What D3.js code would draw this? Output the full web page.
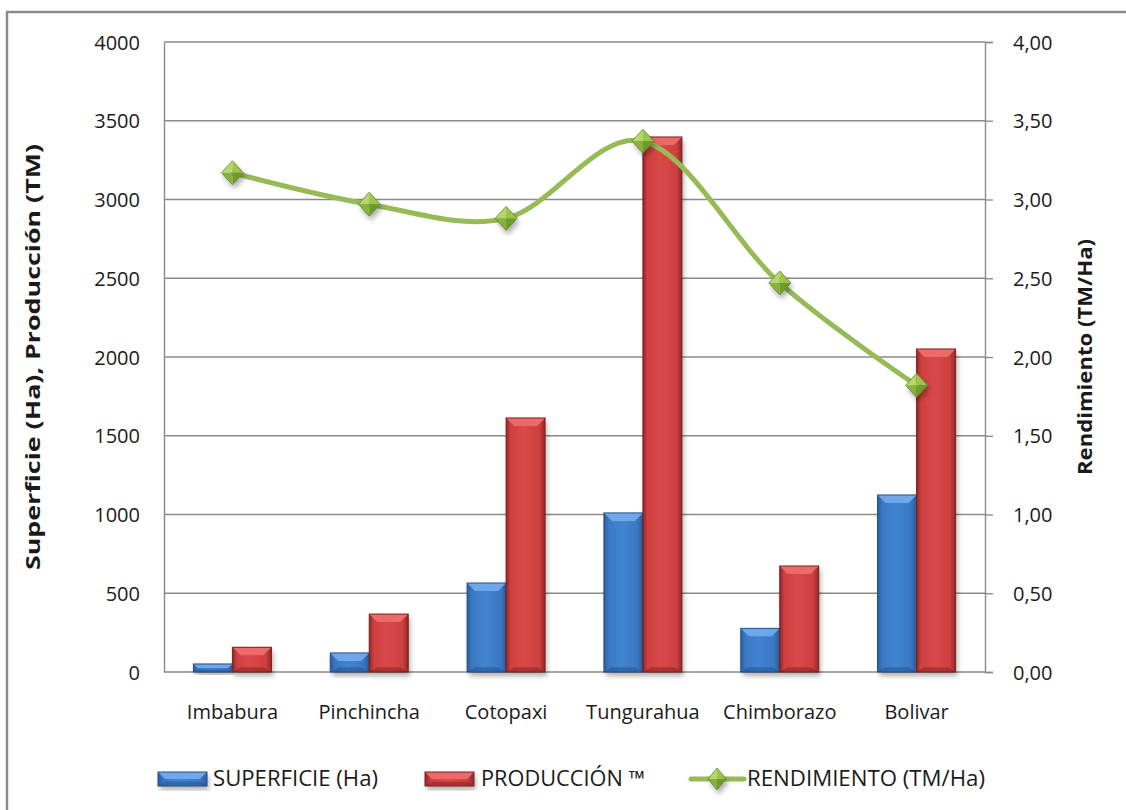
<!DOCTYPE html>
<html>
<head>
<meta charset="utf-8">
<script src="https://cdn.jsdelivr.net/npm/d3@7/dist/d3.min.js"></script>
<style>
  html, body { margin: 0; padding: 0; background: #fff; }
  svg text { font-family: "Open Sans", "DejaVu Sans", sans-serif; fill: #1a1a1a; }
</style>
</head>
<body>
<div id="chart"></div>
<script>
// datos
const categories = ["Imbabura", "Pinchincha", "Cotopaxi", "Tungurahua", "Chimborazo", "Bolivar"];
const superficie = [51, 121, 565, 1010, 277, 1124];
const produccion = [157, 368, 1613, 3397, 673, 2051];
const rendimiento = [3.17, 2.97, 2.88, 3.37, 2.47, 1.82];
const leftTicks = [0, 500, 1000, 1500, 2000, 2500, 3000, 3500, 4000];
const rightTicks = [0, 0.5, 1, 1.5, 2, 2.5, 3, 3.5, 4];
const seriesNames = ["SUPERFICIE (Ha)", "PRODUCCIÓN ™", "RENDIMIENTO (TM/Ha)"];

const W = 1126, H = 810;
const plot = { left: 164, right: 985, top: 42, bottom: 672 };
const grey = "#8a8a8a";

const svg = d3.select("#chart").append("svg")
  .attr("width", W)
  .attr("height", H);

// defs: degradados de las barras y marcadores
const defs = svg.append("defs");

function hGrad(id, edge, mid, hi) {
  const g = defs.append("linearGradient").attr("id", id)
    .attr("x1", 0).attr("x2", 1).attr("y1", 0).attr("y2", 0);
  g.append("stop").attr("offset", "0%").attr("stop-color", edge);
  g.append("stop").attr("offset", "12%").attr("stop-color", mid);
  g.append("stop").attr("offset", "45%").attr("stop-color", hi);
  g.append("stop").attr("offset", "85%").attr("stop-color", mid);
  g.append("stop").attr("offset", "100%").attr("stop-color", edge);
}
hGrad("gBlue", "#2b5c9c", "#3a78c3", "#4184d0");
hGrad("gRed", "#8f2828", "#d04040", "#d94848");

const shadow = defs.append("filter").attr("id", "shadow")
  .attr("x", "-20%").attr("y", "-20%").attr("width", "150%").attr("height", "150%");
shadow.append("feDropShadow").attr("dx", 2).attr("dy", 4).attr("stdDeviation", 2.5)
  .attr("flood-color", "#000").attr("flood-opacity", 0.3);

// marco exterior
svg.append("rect")
  .attr("x", 7).attr("y", 12)
  .attr("width", W + 20).attr("height", H + 20)
  .attr("fill", "none").attr("stroke", grey).attr("stroke-width", 2.5);

const x = d3.scaleBand()
  .domain(categories)
  .range([plot.left, plot.right])
  .paddingInner(0.43)
  .paddingOuter(0.215);

const x1 = d3.scaleBand()
  .domain([0, 1])
  .range([0, x.bandwidth()]);

const yL = d3.scaleLinear().domain([0, 4000]).range([plot.bottom, plot.top]);
const yR = d3.scaleLinear().domain([0, 4]).range([plot.bottom, plot.top]);

// lineas de cuadricula
svg.append("g")
  .selectAll("line")
  .data(leftTicks.slice(1))
  .enter().append("line")
  .attr("x1", plot.left).attr("x2", plot.right)
  .attr("y1", d => yL(d)).attr("y2", d => yL(d))
  .attr("stroke", grey).attr("stroke-width", 1.4);

// eje izquierdo
const axisL = svg.append("g")
  .attr("transform", `translate(${plot.left},0)`)
  .call(d3.axisLeft(yL).tickValues(leftTicks).tickSize(0).tickPadding(24).tickFormat(d3.format("d")));
axisL.select(".domain").attr("stroke", grey).attr("stroke-width", 1.4);
axisL.selectAll("text").style("font-size", "20px").attr("dy", "0.35em");

// eje derecho
const commaFmt = d => d3.format(".2f")(d).replace(".", ",");
const axisR = svg.append("g")
  .attr("transform", `translate(${plot.right},0)`)
  .call(d3.axisRight(yR).tickValues(rightTicks).tickSize(8).tickPadding(20).tickFormat(commaFmt));
axisR.select(".domain").attr("stroke", grey).attr("stroke-width", 1.4);
axisR.selectAll(".tick line").attr("stroke", grey).attr("stroke-width", 1.4);
axisR.selectAll("text").style("font-size", "20px").attr("dy", "0.35em");

// eje x
const axisX = svg.append("g")
  .attr("transform", `translate(0,${plot.bottom})`)
  .call(d3.axisBottom(x).tickSize(0).tickPadding(33));
axisX.select(".domain").attr("stroke", grey).attr("stroke-width", 1.4)
  .attr("d", `M${plot.left},0H${plot.right}`);
axisX.selectAll("text").style("font-size", "20px");

// titulos de ejes
svg.append("text")
  .attr("transform", `translate(40,${(plot.top + plot.bottom) / 2}) rotate(-90)`)
  .attr("text-anchor", "middle")
  .attr("textLength", 426).attr("lengthAdjust", "spacingAndGlyphs")
  .style("font-size", "20px").style("font-weight", "bold")
  .text("Superficie (Ha), Producción (TM)");

svg.append("text")
  .attr("transform", `translate(1092,${(plot.top + plot.bottom) / 2}) rotate(-90)`)
  .attr("text-anchor", "middle")
  .attr("textLength", 236).attr("lengthAdjust", "spacingAndGlyphs")
  .style("font-size", "20px").style("font-weight", "bold")
  .text("Rendimiento (TM/Ha)");

// barra con bisel al estilo Excel
function bevelBar(g, bx, by, bw, bh, fill, light, dark) {
  const b = Math.min(8, bh / 2);
  g.append("rect").attr("x", bx).attr("y", by).attr("width", bw).attr("height", bh)
    .attr("fill", fill).attr("filter", "url(#shadow)");
  g.append("path")
    .attr("d", `M${bx},${by}H${bx + bw}L${bx + bw - b},${by + b}H${bx + b}Z`)
    .attr("fill", light);
  g.append("path")
    .attr("d", `M${bx},${by + bh}H${bx + bw}L${bx + bw - b},${by + bh - b * 0.6}H${bx + b}Z`)
    .attr("fill", dark).attr("opacity", 0.5);
  g.append("rect").attr("x", bx).attr("y", by).attr("width", bw).attr("height", bh)
    .attr("fill", "none").attr("stroke", dark).attr("stroke-width", 1);
}

const bars = svg.append("g");
const barSeries = [
  { values: superficie, fill: "url(#gBlue)", light: "#6ea8ea", dark: "#244f88" },
  { values: produccion, fill: "url(#gRed)", light: "#ec6a6a", dark: "#7e2020" }
];
barSeries.forEach((s, si) => {
  s.values.forEach((v, i) => {
    const bx = x(categories[i]) + x1(si);
    bevelBar(bars, bx, yL(v), x1.bandwidth(), yL(0) - yL(v), s.fill, s.light, s.dark);
  });
});

// linea de rendimiento
const line = d3.line()
  .x((d, i) => x(categories[i]) + x.bandwidth() / 2)
  .y(d => yR(d))
  .curve(d3.curveCardinal.tension(0));

svg.append("path")
  .datum(rendimiento)
  .attr("d", line)
  .attr("fill", "none")
  .attr("stroke", "#96ba55")
  .attr("stroke-width", 5)
  .attr("stroke-linecap", "round");

function diamond(g, cx, cy, rx, ry) {
  const facets = [
    { d: `M${cx},${cy}L${cx - rx},${cy}L${cx},${cy - ry}Z`, c: "#b4d66a" },
    { d: `M${cx},${cy}L${cx},${cy - ry}L${cx + rx},${cy}Z`, c: "#9cc44e" },
    { d: `M${cx},${cy}L${cx + rx},${cy}L${cx},${cy + ry}Z`, c: "#6f9a2e" },
    { d: `M${cx},${cy}L${cx},${cy + ry}L${cx - rx},${cy}Z`, c: "#88b23f" }
  ];
  const m = g.append("g").attr("filter", "url(#shadow)");
  facets.forEach(f => m.append("path").attr("d", f.d).attr("fill", f.c));
  m.append("path")
    .attr("d", `M${cx - rx},${cy}L${cx},${cy - ry}L${cx + rx},${cy}L${cx},${cy + ry}Z`)
    .attr("fill", "none").attr("stroke", "#5f8526").attr("stroke-width", 0.8);
}

const markers = svg.append("g");
rendimiento.forEach((v, i) => {
  diamond(markers, x(categories[i]) + x.bandwidth() / 2, yR(v), 11, 12);
});

// leyenda
const legend = svg.append("g");
const ly = 779;
bevelBar(legend, 158, ly - 7, 49, 14, "url(#gBlue)", "#6ea8ea", "#244f88");
bevelBar(legend, 425, ly - 7, 49, 14, "url(#gRed)", "#ec6a6a", "#7e2020");
legend.append("line")
  .attr("x1", 691).attr("x2", 744).attr("y1", ly).attr("y2", ly)
  .attr("stroke", "#96ba55").attr("stroke-width", 5).attr("stroke-linecap", "round");
diamond(legend, 717, ly, 9, 11);

const legendItems = [
  { x: 213, w: 165, name: seriesNames[0] },
  { x: 481, w: 164, name: seriesNames[1] },
  { x: 747, w: 238, name: seriesNames[2] }
];
legend.selectAll("text")
  .data(legendItems)
  .enter().append("text")
  .attr("x", d => d.x)
  .attr("y", ly + 7)
  .attr("textLength", d => d.w)
  .attr("lengthAdjust", "spacingAndGlyphs")
  .style("font-size", "21px")
  .text(d => d.name);
</script>
</body>
</html>
